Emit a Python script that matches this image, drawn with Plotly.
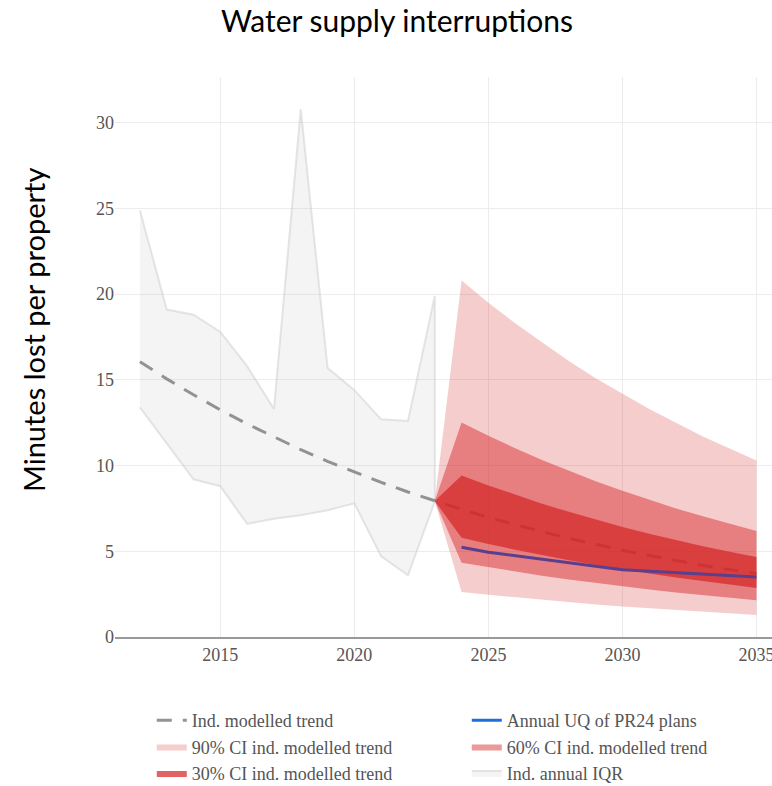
import plotly.graph_objects as go

# ---- data -------------------------------------------------------------
hist_years = [2012, 2013, 2014, 2015, 2016, 2017, 2018, 2019, 2020, 2021, 2022, 2023]
iqr_upper = [24.9, 19.1, 18.8, 17.8, 15.8, 13.3, 30.8, 15.7, 14.4, 12.7, 12.6, 19.9]
iqr_lower = [13.4, 11.3, 9.2, 8.8, 6.6, 6.9, 7.1, 7.4, 7.8, 4.7, 3.6, 7.9]

trend_years = list(range(2012, 2036))
trend = [16.06, 15.06, 14.13, 13.25, 12.43, 11.66, 10.93, 10.25, 9.62, 9.02, 8.46, 7.93,
         7.44, 6.98, 6.55, 6.14, 5.76, 5.40, 5.06, 4.75, 4.45, 4.18, 3.93, 3.70]

fan_years = list(range(2023, 2036))
ci90_upper = [7.93, 20.8, 19.5, 18.3, 17.2, 16.1, 15.1, 14.2, 13.3, 12.5, 11.7, 11.0, 10.3]
ci90_lower = [7.93, 2.62, 2.46, 2.30, 2.16, 2.03, 1.90, 1.78, 1.67, 1.57, 1.47, 1.38, 1.29]
ci60_upper = [7.93, 12.52, 11.74, 11.01, 10.33, 9.69, 9.09, 8.53, 8.00, 7.50, 7.04, 6.60, 6.19]
ci60_lower = [7.93, 4.33, 4.06, 3.81, 3.57, 3.35, 3.14, 2.95, 2.77, 2.59, 2.43, 2.28, 2.14]
ci30_upper = [7.93, 9.42, 8.84, 8.29, 7.78, 7.30, 6.85, 6.42, 6.02, 5.65, 5.30, 4.97, 4.66]
ci30_lower = [7.93, 5.79, 5.43, 5.09, 4.78, 4.48, 4.20, 3.94, 3.70, 3.47, 3.25, 3.05, 2.86]

plan_years = [2024, 2025, 2030, 2035]
plan_uq = [5.24, 4.95, 3.92, 3.50]

x_ticks = [2015, 2020, 2025, 2030, 2035]
y_ticks = [0, 5, 10, 15, 20, 25, 30]

# ---- styling ----------------------------------------------------------
SERIF = "Liberation Serif, Times New Roman, serif"
SANS = "Lato, Open Sans, sans-serif"
RED = "214,39,40"


def band(xs, upper, lower):
    """Closed polygon for a filled band between two edges."""
    return xs + xs[::-1], upper + lower[::-1]


fig = go.Figure()

bx, by = band(hist_years, iqr_upper, iqr_lower)
fig.add_trace(go.Scatter(
    x=bx, y=by, fill="toself", mode="lines",
    fillcolor="rgba(200,200,200,0.2)",
    line=dict(color="rgba(200,200,200,0.45)", width=2),
    name="Ind. annual IQR", legendrank=6, hoverinfo="skip",
))

fig.add_trace(go.Scatter(
    x=trend_years, y=trend, mode="lines",
    line=dict(color="rgba(128,128,128,0.85)", width=3, dash="15px,11px"),
    name="Ind. modelled trend", legendrank=1,
))

for upper, lower, alpha, label, rank in [
    (ci90_upper, ci90_lower, 0.23, "90% CI ind. modelled trend", 3),
    (ci60_upper, ci60_lower, 0.47, "60% CI ind. modelled trend", 4),
    (ci30_upper, ci30_lower, 0.72, "30% CI ind. modelled trend", 5),
]:
    fx, fy = band(fan_years, upper, lower)
    fig.add_trace(go.Scatter(
        x=fx, y=fy, fill="toself", mode="lines",
        fillcolor=f"rgba({RED},{alpha})",
        line=dict(color="rgba(0,0,0,0)", width=0),
        name=label, legendrank=rank, hoverinfo="skip",
    ))

# plan line sits over the fan
fig.add_trace(go.Scatter(
    x=plan_years, y=plan_uq, mode="lines",
    line=dict(color="#5a3f8e", width=3),
    showlegend=False, name="Annual UQ of PR24 plans",
))
fig.add_trace(go.Scatter(
    x=[None], y=[None], mode="lines",
    line=dict(color="#1f6fd8", width=3),
    name="Annual UQ of PR24 plans", legendrank=2,
))

fig.update_layout(
    width=772, height=786,
    margin=dict(l=115, r=0, t=77, b=149, autoexpand=False),
    paper_bgcolor="white", plot_bgcolor="white",
    title=dict(
        text="Water supply interruptions",
        x=397 / 772, xref="container", xanchor="center",
        y=1 - 21 / 786, yref="container", yanchor="middle",
        font=dict(family=SANS, size=30, color="#000"),
    ),
    legend=dict(
        orientation="h", x=0.056, xanchor="left", y=-0.116, yanchor="top",
        entrywidth=270, entrywidthmode="pixels",
        font=dict(family=SERIF, size=18, color="#555"),
    ),
    showlegend=True,
    annotations=[dict(
        text="Minutes lost per property", textangle=-90,
        xref="paper", yref="paper", x=(33 - 115) / 657, y=(637 - 330) / 560,
        xanchor="center", yanchor="middle", showarrow=False,
        font=dict(family=SANS, size=29, color="#000"),
    )],
)

fig.update_xaxes(
    range=[2011.07, 2035.58], tickvals=x_ticks,
    tickfont=dict(family=SERIF, size=18, color="#555"),
    ticklabeloverflow="allow",
    showgrid=True, gridcolor="#ececec", gridwidth=1,
    showline=True, linecolor="#999", linewidth=2,
    zeroline=False,
)
fig.update_yaxes(
    range=[0, 32.67], tickvals=y_ticks,
    tickfont=dict(family=SERIF, size=18, color="#555"),
    showgrid=True, gridcolor="#ececec", gridwidth=1,
    zeroline=False, showline=False,
)

fig.write_html("out.html")
